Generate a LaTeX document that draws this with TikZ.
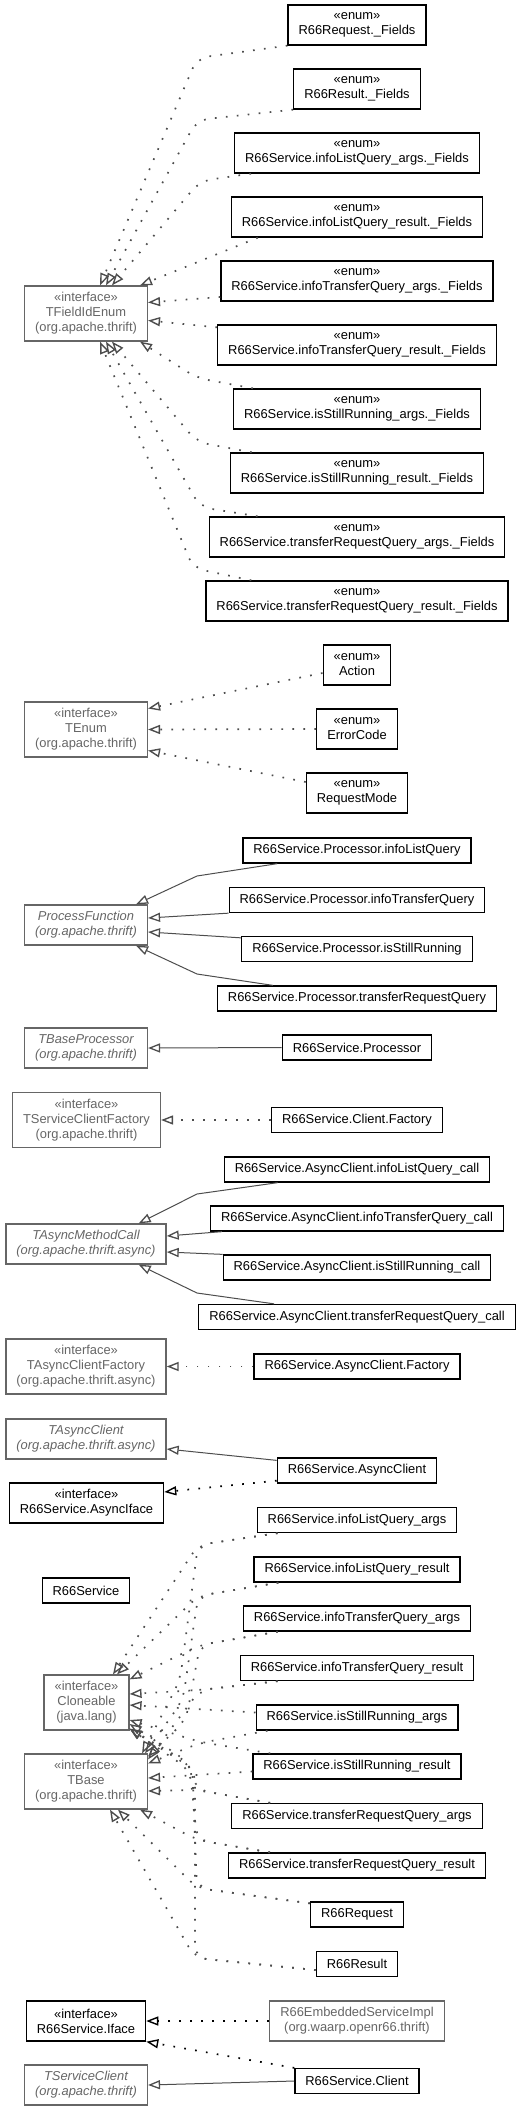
\documentclass[tikz,border=0pt]{standalone}
\usepackage{fontspec}
\setmainfont{Liberation Sans}
\usetikzlibrary{arrows.meta,calc}
\definecolor{extgray}{HTML}{666666}
\definecolor{edgegray}{HTML}{4D4D4D}
\begin{document}
\begin{tikzpicture}[x=1pt,y=-1pt,
  cls/.style={draw=black,line width=1.3pt,fill=white,align=center,
    font=\fontsize{12.9}{15}\selectfont,inner xsep=10.5pt,inner ysep=2pt,minimum height=25pt},
  extcls/.style={cls,draw=extgray,text=extgray},
  two/.style={minimum height=40pt},
  three/.style={minimum height=55pt},
  abs/.style={font=\fontsize{12.9}{15}\selectfont\itshape},
  impl/.style={draw=edgegray,line width=1.7pt,dash pattern=on 1.7pt off 9.3pt,
    rounded corners=12pt,-{Triangle[open,length=12pt,width=9pt,line width=1.4pt]}},
  implb/.style={impl,draw=black},
  inh/.style={draw=edgegray,line width=1pt,-{Triangle[open,length=12pt,width=9pt,line width=1.3pt]}}]

\useasboundingbox (0,0) rectangle (524,2111);

% field enums
\node[cls,two] (rqf) at (357,25) {«enum»\\R66Request.\_Fields};
\node[cls,two] (rsf) at (357,89) {«enum»\\R66Result.\_Fields};
\node[cls,two] (ilaf) at (357,153) {«enum»\\R66Service.infoListQuery\_args.\_Fields};
\node[cls,two] (ilrf) at (357,217) {«enum»\\R66Service.infoListQuery\_result.\_Fields};
\node[cls,two] (itaf) at (357,281) {«enum»\\R66Service.infoTransferQuery\_args.\_Fields};
\node[cls,two] (itrf) at (357,345) {«enum»\\R66Service.infoTransferQuery\_result.\_Fields};
\node[cls,two] (isaf) at (357,409) {«enum»\\R66Service.isStillRunning\_args.\_Fields};
\node[cls,two] (isrf) at (357,473) {«enum»\\R66Service.isStillRunning\_result.\_Fields};
\node[cls,two] (traf) at (357,537) {«enum»\\R66Service.transferRequestQuery\_args.\_Fields};
\node[cls,two] (trrf) at (357,601) {«enum»\\R66Service.transferRequestQuery\_result.\_Fields};
\node[extcls,three] (tfe) at (86,313.5) {«interface»\\TFieldIdEnum\\(org.apache.thrift)};

\draw[impl] (rqf.south west) -- (197,58) -- ($(tfe.north)+(14,0)$);
\draw[impl] (rsf.south west) -- (197,120) -- ($(tfe.north)+(20,0)$);
\draw[impl] ($(ilaf.south west)+(17,0)$) -- (200,181) -- ($(tfe.north)+(26,0)$);
\draw[impl] ($(ilrf.south west)+(27,0)$) -- ($(tfe.north east)+(-8,0)$);
\draw[impl] ($(itaf.west)+(0,16)$) -- ($(tfe.east)+(0,-11)$);
\draw[impl] ($(itrf.north west)+(0,3)$) -- ($(tfe.east)+(0,7)$);
\draw[impl] ($(isaf.north west)+(20,0)$) -- (197,378) -- ($(tfe.south east)+(-8,0)$);
\draw[impl] ($(isrf.north west)+(22,0)$) -- (197,442) -- ($(tfe.south)+(26,0)$);
\draw[impl] ($(traf.north west)+(49,0)$) -- (200,507) -- ($(tfe.south)+(20,0)$);
\draw[impl] ($(trrf.north west)+(46,0)$) -- (193,568) -- ($(tfe.south)+(14,0)$);

% enums
\node[cls,two] (act) at (357,665) {«enum»\\Action};
\node[cls,two] (err) at (357,729) {«enum»\\ErrorCode};
\node[cls,two] (rqm) at (357,793) {«enum»\\RequestMode};
\node[extcls,three] (tenum) at (86,729.5) {«interface»\\TEnum\\(org.apache.thrift)};

\draw[impl] ($(act.west)+(0,8)$) -- ($(tenum.east)+(0,-21)$);
\draw[impl] (err.west) -- (tenum.east);
\draw[impl] ($(rqm.west)+(0,-11)$) -- ($(tenum.east)+(0,21)$);

% processor functions
\node[cls] (pil) at (357,850.5) {R66Service.Processor.infoListQuery};
\node[cls] (pit) at (357,900) {R66Service.Processor.infoTransferQuery};
\node[cls] (pis) at (357,949) {R66Service.Processor.isStillRunning};
\node[cls] (ptr) at (357,998.5) {R66Service.Processor.transferRequestQuery};
\node[extcls,two,abs] (pfn) at (86,925) {ProcessFunction\\(org.apache.thrift)};

\draw[inh] ($(pil.south west)+(35,0)$) -- (197,876) -- ($(pfn.north east)+(-12,0)$);
\draw[inh] (pit.south west) -- ($(pfn.east)+(0,-7)$);
\draw[inh] ($(pis.north west)+(0,2)$) -- ($(pfn.east)+(0,7)$);
\draw[inh] ($(ptr.north west)+(56,0)$) -- (197,974) -- ($(pfn.south east)+(-12,0)$);

\node[extcls,two,abs] (tbp) at (86,1048) {TBaseProcessor\\(org.apache.thrift)};
\node[cls] (proc) at (357,1047.5) {R66Service.Processor};
\draw[inh] (proc.west) -- (tbp.east);

\node[extcls,three] (tscf) at (86.5,1120) {«interface»\\TServiceClientFactory\\(org.apache.thrift)};
\node[cls] (cfac) at (357,1120) {R66Service.Client.Factory};
\draw[impl] (cfac.west) -- (tscf.east);

% async calls
\node[cls] (ail) at (357,1169.5) {R66Service.AsyncClient.infoListQuery\_call};
\node[cls] (ait) at (357,1218.5) {R66Service.AsyncClient.infoTransferQuery\_call};
\node[cls] (ais) at (357,1267.5) {R66Service.AsyncClient.isStillRunning\_call};
\node[cls] (atr) at (357,1317) {R66Service.AsyncClient.transferRequestQuery\_call};
\node[extcls,two,abs] (tamc) at (86,1244) {TAsyncMethodCall\\(org.apache.thrift.async)};

\draw[inh] ($(ail.south west)+(54,0)$) -- (197,1194) -- ($(tamc.north east)+(-28,0)$);
\draw[inh] ($(ait.south west)+(12,0)$) -- ($(tamc.east)+(0,-8)$);
\draw[inh] (ais.north west) -- ($(tamc.east)+(0,8)$);
\draw[inh] ($(atr.north west)+(76,0)$) -- (197,1293) -- ($(tamc.south east)+(-28,0)$);

\node[extcls,three] (tacf) at (86,1366.5) {«interface»\\TAsyncClientFactory\\(org.apache.thrift.async)};
\node[cls] (afac) at (357,1366.5) {R66Service.AsyncClient.Factory};
\draw[impl] (afac.west) -- (tacf.east);

\node[extcls,two,abs] (tac) at (86,1439) {TAsyncClient\\(org.apache.thrift.async)};
\node[cls] (aclient) at (357,1470.5) {R66Service.AsyncClient};
\node[cls,two] (aiface) at (86.5,1503) {«interface»\\R66Service.AsyncIface};
\draw[inh] ($(aclient.north west)+(0,3)$) -- ($(tac.east)+(0,10)$);
\draw[implb] ($(aclient.south west)+(0,-3)$) -- ($(aiface.east)+(0,-11)$);

% thrift structs
\node[cls] (ila) at (357,1520) {R66Service.infoListQuery\_args};
\node[cls] (ilr) at (357,1569.5) {R66Service.infoListQuery\_result};
\node[cls] (ita) at (357,1618.5) {R66Service.infoTransferQuery\_args};
\node[cls] (itr) at (357,1668) {R66Service.infoTransferQuery\_result};
\node[cls] (isa) at (357,1717.5) {R66Service.isStillRunning\_args};
\node[cls] (isr) at (357,1766.5) {R66Service.isStillRunning\_result};
\node[cls] (tra) at (357,1816) {R66Service.transferRequestQuery\_args};
\node[cls] (trr) at (357,1865.5) {R66Service.transferRequestQuery\_result};
\node[cls] (req) at (357,1914.5) {R66Request};
\node[cls] (res) at (357,1964) {R66Result};
\node[cls] (svc) at (86,1590.5) {R66Service};
\node[extcls,three] (clo) at (86.5,1702.5) {«interface»\\Cloneable\\(java.lang)};
\node[extcls,three] (tbase) at (86,1781.5) {«interface»\\TBase\\(org.apache.thrift)};

\draw[impl] ($(ila.south west)+(21,0)$) -- (198,1545) -- ($(clo.north)+(26.5,0)$);
\draw[impl] ($(ila.south west)+(21,0)$) -- (198,1545) -- (180,1680) -- ($(tbase.north east)+(-6,0)$);
\draw[impl] ($(ilr.south west)+(25,0)$) -- (198,1596) -- ($(clo.north)+(30.5,0)$);
\draw[impl] ($(ilr.south west)+(25,0)$) -- (198,1596) -- (183,1700) -- ($(tbase.north east)+(-3,0)$);
\draw[impl] ($(ita.south west)+(35,0)$) -- (200,1645) -- ($(clo.north east)+(0,5)$);
\draw[impl] ($(ita.south west)+(35,0)$) -- (200,1645) -- (186,1720) -- ($(tbase.north east)+(0,3)$);
\draw[impl] ($(itr.south west)+(38,0)$) -- (200,1690) -- ($(clo.east)+(0,-8.5)$);
\draw[impl] ($(itr.south west)+(38,0)$) -- (200,1690) -- ($(tbase.north east)+(0,6)$);
\draw[impl] ($(isa.west)+(0,-5)$) -- ($(clo.east)+(0,2.5)$);
\draw[impl] ($(isa.south west)+(12,0)$) -- (200,1743) -- ($(tbase.north east)+(0,10)$);
\draw[impl] ($(isr.north west)+(18,0)$) -- (200,1742) -- ($(clo.east)+(0,17.5)$);
\draw[impl] ($(isr.west)+(0,5)$) -- ($(tbase.east)+(0,-3.5)$);
\draw[impl] ($(tra.north west)+(39,0)$) -- (197,1790) -- (186,1760) -- ($(clo.east)+(0,21.5)$);
\draw[impl] ($(tra.north west)+(39,0)$) -- (197,1790) -- ($(tbase.east)+(0,9.5)$);
\draw[impl] ($(trr.north west)+(42,0)$) -- (197,1840) -- (190,1770) -- ($(clo.south east)+(0,-2)$);
\draw[impl] ($(trr.north west)+(42,0)$) -- (197,1840) -- ($(tbase.south east)+(-8,0)$);
\draw[impl] ($(req.north west)+(0,2)$) -- (197,1888) -- (192,1765) -- ($(clo.south east)+(0,-2)$);
\draw[impl] ($(req.north west)+(0,2)$) -- (197,1888) -- ($(tbase.south)+(32,0)$);
\draw[impl] ($(res.west)+(0,6)$) -- (195,1958) -- (195,1770) -- ($(clo.south east)+(0,-2)$);
\draw[impl] ($(res.west)+(0,6)$) -- (195,1958) -- ($(tbase.south)+(24,0)$);

% service client
\node[cls,two] (iface) at (86,2021) {«interface»\\R66Service.Iface};
\node[extcls,two] (embd) at (357,2021) {R66EmbeddedServiceImpl\\(org.waarp.openr66.thrift)};
\node[cls] (client) at (357,2081) {R66Service.Client};
\node[extcls,two,abs] (tsc) at (86,2085) {TServiceClient\\(org.apache.thrift)};

\draw[implb] (embd.west) -- (iface.east);
\draw[implb] (client.north west) -- (iface.south east);
\draw[inh] (client.west) -- (tsc.east);

\end{tikzpicture}
\end{document}
